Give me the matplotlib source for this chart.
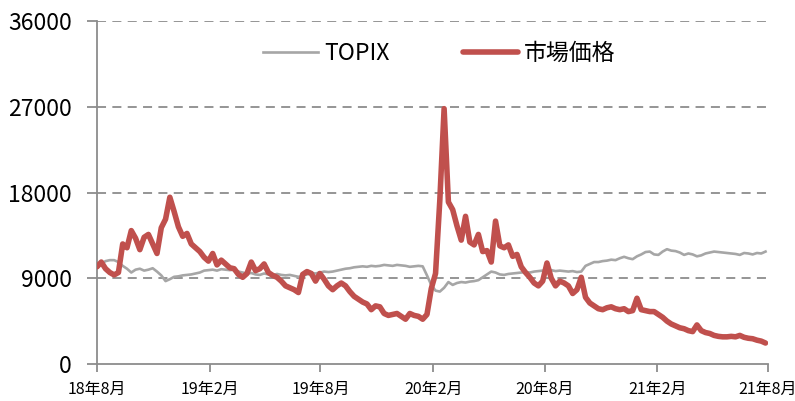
import pandas as pd
import matplotlib.pyplot as plt

plt.rcParams['font.family'] = ['Noto Sans CJK JP', 'DejaVu Sans']

# 週次データ（2018年8月～2021年7月末）
fechas = pd.date_range('2018-08-01', periods=157, freq='7D')

precio_mercado = [
    10200, 10700, 10000, 9600, 9350, 9600, 12600, 12200, 14000, 13200,
    12000, 13300, 13600, 12600, 11600, 14300, 15200, 17500, 16000, 14400,
    13400, 13700, 12600, 12200, 11800, 11200, 10800, 11600, 10400, 10900,
    10500, 10100, 10000, 9400, 9100, 9500, 10700, 9800, 10000, 10500,
    9600, 9300, 9100, 8700, 8200, 8000, 7800, 7500, 9400, 9700,
    9500, 8700, 9500, 8900, 8200, 7800, 8200, 8500, 8200, 7600,
    7100, 6800, 6500, 6300, 5700, 6100, 6000, 5300, 5100, 5200,
    5300, 5000, 4700, 5300, 5100, 5000, 4700, 5200, 7900, 9500,
    17200, 26800, 17000, 16200, 14500, 13000, 15500, 12800, 12500, 13600,
    11800, 11900, 10700, 15000, 12400, 12200, 12500, 11300, 11500, 10200,
    9600, 9100, 8500, 8200, 8700, 10600, 9000, 8200, 8700, 8500,
    8200, 7400, 7800, 9100, 7000, 6400, 6100, 5800, 5700, 5900,
    6000, 5800, 5700, 5800, 5500, 5600, 6900, 5700, 5600, 5500,
    5500, 5200, 4900, 4500, 4200, 4000, 3800, 3700, 3500, 3400,
    4100, 3500, 3300, 3200, 3000, 2900, 2850, 2850, 2900, 2850,
    3000, 2800, 2700, 2650, 2500, 2400, 2200,
]

topix = [
    10050, 10500, 10800, 10900, 10900, 10700, 10300, 10000, 9600, 9900,
    10000, 9800, 9900, 10050, 9700, 9300, 8700, 8900, 9150, 9200,
    9300, 9350, 9400, 9500, 9600, 9800, 9850, 9900, 9800, 9950,
    9900, 9850, 9900, 9700, 9600, 9500, 9550, 9400, 9350, 9500,
    9400, 9300, 9450, 9350, 9300, 9350, 9250, 9150, 9250, 9400,
    9550, 9500, 9600, 9700, 9650, 9700, 9800, 9900, 10000, 10050,
    10150, 10200, 10250, 10200, 10300, 10250, 10300, 10400, 10350, 10300,
    10400, 10350, 10300, 10200, 10250, 10300, 10250, 9300, 8300, 7700,
    7600, 8000, 8600, 8300, 8500, 8600, 8550, 8650, 8700, 8800,
    9100, 9400, 9700, 9600, 9400, 9350, 9450, 9500, 9550, 9600,
    9650, 9600, 9700, 9750, 9800, 9850, 9850, 9750, 9800, 9750,
    9700, 9750, 9650, 9700, 10300, 10500, 10700, 10700, 10800, 10850,
    10950, 10900, 11100, 11250, 11100, 11000, 11300, 11500, 11750, 11800,
    11500, 11450, 11800, 12050, 11900, 11850, 11700, 11450, 11600, 11500,
    11300, 11400, 11600, 11700, 11800, 11750, 11700, 11650, 11600, 11550,
    11450, 11650, 11600, 11500, 11650, 11600, 11800,
]

ticks_x = pd.to_datetime(['2018-08-01', '2019-02-01', '2019-08-01', '2020-02-01',
                          '2020-08-01', '2021-02-01', '2021-08-01'])
etiquetas_x = ['18年8月', '19年2月', '19年8月', '20年2月', '20年8月', '21年2月', '21年8月']
ticks_y = [0, 9000, 18000, 27000, 36000]

gris_eje = '#8c8c8c'

fig = plt.figure(figsize=(7.95, 4.01), dpi=100)
ax = fig.add_axes([0.122, 0.0923, 0.844, 0.8553])

ax.plot(fechas, topix, color='#a6a6a6', lw=1.9, label='TOPIX', zorder=3)
ax.plot(fechas, precio_mercado, color='#c0504d', lw=4.0, label='市場価格',
        solid_capstyle='round', solid_joinstyle='round', zorder=4)

ax.set_xlim(ticks_x[0], ticks_x[-1])
ax.set_ylim(0, 36000)
ax.set_xticks(ticks_x)
ax.set_xticklabels(etiquetas_x, fontsize=11.5)
ax.set_yticks(ticks_y)
ax.set_yticklabels([str(v) for v in ticks_y], fontsize=16.5)

# líneas de cuadrícula discontinuas
for v in ticks_y[1:]:
    ax.axhline(v, color=gris_eje, lw=1.3, ls=(0, (5, 3.5)), zorder=1)

for lado in ['top', 'right']:
    ax.spines[lado].set_visible(False)
for lado in ['left', 'bottom']:
    ax.spines[lado].set_color(gris_eje)
    ax.spines[lado].set_linewidth(1.3)

ax.tick_params(axis='y', direction='out', length=7, width=1.3, color=gris_eje, pad=11)
ax.tick_params(axis='x', direction='out', length=6, width=1.3, color=gris_eje, pad=6)

ax.legend(loc='upper center', bbox_to_anchor=(0.51, 1.0), ncol=2, frameon=False,
          fontsize=16.5, handlelength=2.4, handletextpad=0.25, columnspacing=3.2)

plt.savefig('out.png', dpi=100)
plt.close()
